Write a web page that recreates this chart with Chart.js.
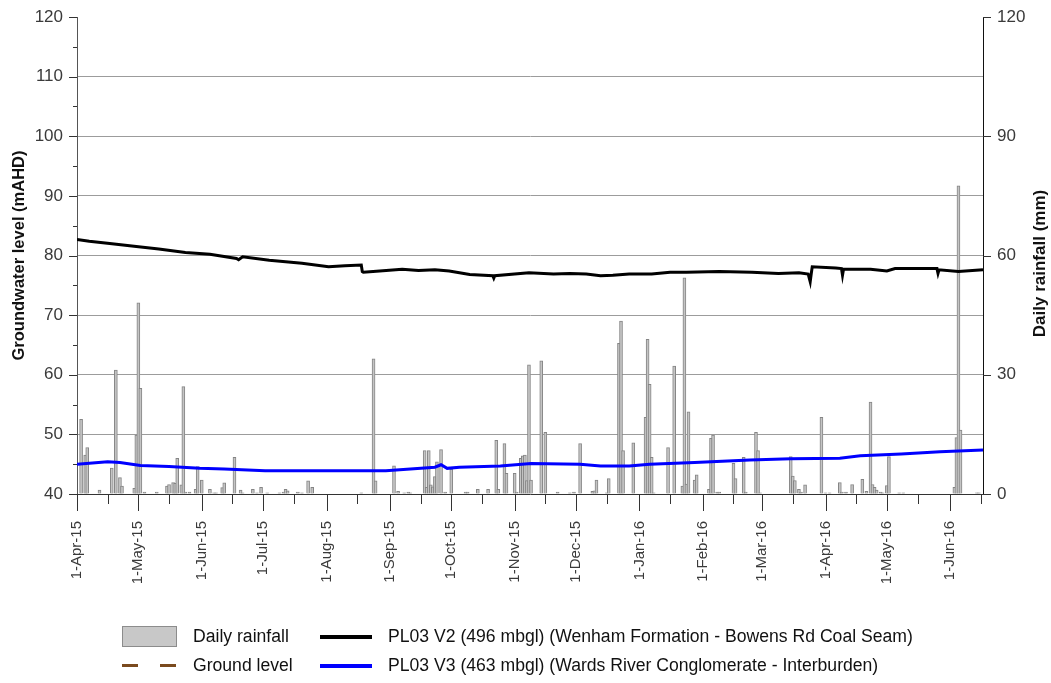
<!DOCTYPE html>
<html>
<head>
<meta charset="utf-8">
<title>PL03 groundwater levels and daily rainfall</title>
<script src="https://cdn.jsdelivr.net/npm/chart.js@4/dist/chart.umd.min.js"></script>
<style>
  html, body { margin: 0; padding: 0; background: #fff; }
  #wrap { position: relative; width: 1051px; height: 683px; }
  #legend {
    position: absolute; left: 122px; top: 622px;
    display: grid; grid-template-columns: 198px auto; grid-auto-rows: 29px;
    font-family: 'Liberation Sans', Arial, sans-serif; font-size: 17.6px; color: #111;
  }
  .item { display: flex; align-items: center; white-space: nowrap; }
  .item span.txt { margin-left: 16px; }
  .sym { display: inline-block; flex: none; }
  .sym.box { width: 53px; height: 19px; background: #c8c8c8; border: 1px solid #8c8c8c; }
  .sym.line { width: 52px; height: 4px; }
  .sym.dash { width: 55px; height: 3px; }
</style>
</head>
<body>
<div id="wrap">
  <canvas id="c" width="1051" height="683"></canvas>
  <div id="legend"></div>
</div>
<script>
// Day offsets are counted from 1 April 2015.
const START_UTC = Date.UTC(2015, 3, 1);
const MONTHS = ['Jan','Feb','Mar','Apr','May','Jun','Jul','Aug','Sep','Oct','Nov','Dec'];

// x-axis ticks: first of each month (labelled) and the 16th (unlabelled)
const majorTickDays = [0, 30, 61, 91, 122, 153, 183, 214, 244, 275, 306, 335, 366, 396, 427];
const minorTickDays = [15, 45, 76, 106, 137, 168, 198, 229, 259, 290, 321, 350, 381, 411, 442];
const X_MAX_DAY = 443;

// Daily rainfall (mm)
const rainDay = [
  2, 4, 5, 11, 17, 19, 21, 22, 28, 29, 30, 31, 33, 39, 44, 45, 47, 48, 49, 51, 52, 53, 55, 58, 59, 61, 65, 67, 68, 71, 72,
  77, 80, 81, 86, 88, 90, 93, 99, 101, 102, 103, 108, 110, 113, 115, 139, 145, 146,
  155, 157, 160, 162, 163, 170, 171, 172, 173, 174, 175, 176, 178, 180, 183, 190, 191, 196, 201, 205, 206, 209, 210, 214, 215,
  217, 218, 219, 220, 221, 222,
  227, 229, 235, 241, 243, 246, 252, 253, 254, 259, 260, 265, 266, 267, 272, 278, 279, 280, 281, 282, 289, 292, 296, 297, 298,
  299, 302, 303,
  309, 310, 311, 313, 314, 321, 322, 326, 327, 332, 333, 334, 349, 350, 351, 353, 354, 356, 364, 366, 368, 373, 374, 376,
  379, 384, 386, 388, 389, 390, 391, 393, 394, 396, 397, 402, 404, 429, 430, 431, 432, 440, 441
];
const rainMm = [
  18.8, 9.8, 11.7, 1.0, 6.5, 31.2, 4.1, 2.0, 1.4, 14.8, 48.1, 26.6, 0.5, 0.5, 2.0, 2.4, 2.9, 2.7, 9.0, 2.3, 27.0, 0.5, 0.5, 1.2, 6.9, 3.5, 1.2, 0.3, 0.3, 1.6, 2.8,
  9.2, 1.0, 0.3, 1.2, 0.3, 1.7, 0.3, 0.3, 0.5, 1.2, 0.8, 0.5, 0.3, 3.3, 1.7, 0.3, 34.0, 3.3,
  7.1, 0.7, 0.3, 0.5, 0.3, 10.9, 1.7, 10.9, 2.3, 1.8, 4.4, 8.1, 11.2, 0.5, 6.2, 0.5, 0.5, 1.2, 1.2, 13.5, 1.2, 12.7, 5.2, 5.2, 0.5,
  9.0, 9.6, 9.8, 3.4, 32.5, 3.5,
  33.5, 15.5, 0.5, 0.3, 0.5, 12.7, 0.7, 0.8, 3.5, 0.3, 3.9, 37.9, 43.5, 10.9, 12.9, 19.3, 38.9, 27.6, 9.2, 0.3, 11.7, 32.2, 2.0, 54.4, 2.5,
  20.7, 3.5, 4.8,
  1.2, 14.0, 14.8, 0.5, 0.5, 7.7, 3.9, 9.2, 0.5, 15.5, 10.9, 0.3, 9.4, 4.5, 3.4, 1.2, 0.5, 2.3, 19.3, 0.3, 0.3, 2.9, 0.5, 0.5,
  2.4, 3.7, 0.7, 23.1, 2.4, 1.7, 1.0, 0.5, 0.3, 2.1, 9.4, 0.3, 0.3, 1.7, 14.2, 77.5, 16.1, 0.3, 0.3
];

// PL03 V2 groundwater level (mAHD)
const v2Day = [
  0, 6, 16, 29, 40, 53, 65, 78, 79, 81, 94, 110, 123, 131, 139, 139.5, 140, 148, 159, 167,
  175, 182, 192, 203.3, 203.8, 204.3, 221, 233, 241, 249, 256, 262, 270, 281, 290, 298, 314, 330, 343, 353,
  357.5, 358.5, 359, 359.5, 371, 373.8, 374.3, 374.8, 388, 396, 400, 414, 420.5, 421, 421.5, 431, 443
];
const v2Level = [
  82.7, 82.4, 82.0, 81.5, 81.1, 80.5, 80.2, 79.5, 79.3, 79.8, 79.2, 78.7, 78.1, 78.3, 78.4, 77.3, 77.2, 77.4, 77.7, 77.5,
  77.6, 77.4, 76.8, 76.6, 76.2, 76.6, 77.1, 76.9, 77.0, 76.9, 76.6, 76.7, 76.9, 76.9, 77.2, 77.2, 77.3, 77.2, 77.0, 77.1,
  76.9, 75.6, 76.9, 78.1, 77.9, 77.8, 76.7, 77.7, 77.7, 77.4, 77.8, 77.8, 77.8, 77.0, 77.6, 77.3, 77.6
];

// PL03 V3 groundwater level (mAHD)
const v3Day = [0, 15, 21, 31, 45, 60, 72, 92, 109, 129, 151, 163, 175, 178, 181, 187, 207, 222, 246, 256,
  270, 280, 302, 329, 349, 373, 383, 403, 422, 443];
const v3Level = [45.0, 45.4, 45.3, 44.8, 44.6, 44.3, 44.2, 43.9, 43.9, 43.9, 43.9, 44.2, 44.5, 44.9, 44.3, 44.5, 44.7, 45.1, 45.0, 44.7,
  44.7, 45.0, 45.3, 45.7, 45.9, 46.0, 46.4, 46.7, 47.1, 47.4];

const levelAxisTitle = 'Groundwater level (mAHD)';
const rainfallAxisTitle = 'Daily rainfall (mm)';

const FONT = "'Liberation Sans', Arial, sans-serif";
const AXIS_COLOR = '#333333';
const TICK_TEXT = '#3a3a3a';

function dayLabel(d) {
  const dt = new Date(START_UTC + d * 86400000);
  return dt.getUTCDate() + '-' + MONTHS[dt.getUTCMonth()] + '-' + String(dt.getUTCFullYear()).slice(2);
}
const pairs = (xs, ys) => xs.map((x, i) => ({ x: x, y: ys[i] }));

// Axis tick marks (major and minor) and the right-hand axis title
const axisDecor = {
  id: 'axisDecor',
  afterDraw(chart) {
    const { ctx, chartArea: a, scales } = chart;
    ctx.save();
    ctx.strokeStyle = AXIS_COLOR;
    ctx.lineWidth = 1;
    ctx.beginPath();
    for (let v = 40; v <= 120; v += 5) {
      const y = Math.round(scales.y.getPixelForValue(v)) + 0.5;
      const len = v % 10 === 0 ? 8 : 4;
      ctx.moveTo(a.left - len, y); ctx.lineTo(a.left, y);
    }
    for (let v = 0; v <= 120; v += 30) {
      const y = Math.round(scales.y1.getPixelForValue(v)) + 0.5;
      ctx.moveTo(a.right, y); ctx.lineTo(a.right + 8, y);
    }
    majorTickDays.forEach(d => {
      const x = Math.round(scales.x.getPixelForValue(d)) + 0.5;
      ctx.moveTo(x, a.bottom); ctx.lineTo(x, a.bottom + 17);
    });
    minorTickDays.forEach(d => {
      const x = Math.round(scales.x.getPixelForValue(d)) + 0.5;
      ctx.moveTo(x, a.bottom); ctx.lineTo(x, a.bottom + 10);
    });
    ctx.stroke();
    ctx.translate(1040, (a.top + a.bottom) / 2 + 8);
    ctx.rotate(-Math.PI / 2);
    ctx.font = 'bold 17px ' + FONT;
    ctx.fillStyle = '#111';
    ctx.textAlign = 'center';
    ctx.textBaseline = 'middle';
    ctx.fillText(rainfallAxisTitle, 0, 0);
    ctx.restore();
  }
};

const chart = new Chart(document.getElementById('c'), {
  type: 'bar',
  data: {
    datasets: [
      {
        type: 'bar', label: 'Daily rainfall', legendSymbol: 'box',
        data: pairs(rainDay, rainMm), xAxisID: 'x', yAxisID: 'y1',
        backgroundColor: '#c4c4c4', borderColor: '#858585', borderWidth: 1, barThickness: 3, order: 4
      },
      {
        type: 'line', label: 'PL03 V2 (496 mbgl) (Wenham Formation - Bowens Rd Coal Seam)', legendSymbol: 'line',
        data: pairs(v2Day, v2Level), xAxisID: 'x', yAxisID: 'y',
        borderColor: '#000000', borderWidth: 3, pointRadius: 0, tension: 0, order: 1
      },
      {
        type: 'line', label: 'Ground level', legendSymbol: 'dash',
        data: [], xAxisID: 'x', yAxisID: 'y',
        borderColor: '#7a4a1e', borderDash: [16, 20], borderWidth: 3, pointRadius: 0, order: 3
      },
      {
        type: 'line', label: 'PL03 V3 (463 mbgl) (Wards River Conglomerate - Interburden)', legendSymbol: 'line',
        data: pairs(v3Day, v3Level), xAxisID: 'x', yAxisID: 'y',
        borderColor: '#0000ff', borderWidth: 3, pointRadius: 0, tension: 0, order: 2
      }
    ]
  },
  options: {
    responsive: false,
    animation: false,
    events: [],
    devicePixelRatio: 1,
    layout: { padding: { top: 17, left: 0, right: 0, bottom: 0 } },
    plugins: { legend: { display: false }, tooltip: { enabled: false } },
    scales: {
      x: {
        type: 'linear', position: 'bottom', min: 0, max: X_MAX_DAY, offset: false,
        afterBuildTicks: s => {
          s.ticks = majorTickDays.concat(minorTickDays).sort((p, q) => p - q).map(v => ({ value: v }));
        },
        afterFit: s => { s.height = 683 - 494; s.paddingLeft = 0; s.paddingRight = 0; s.paddingTop = 0; s.paddingBottom = 0; },
        grid: { display: true, drawOnChartArea: false, drawTicks: false, offset: false },
        border: { display: true, color: AXIS_COLOR, width: 1 },
        ticks: {
          autoSkip: false, maxRotation: 90, minRotation: 90, padding: 27,
          color: TICK_TEXT, font: { family: FONT, size: 15 },
          callback: v => majorTickDays.includes(v) ? dayLabel(v) : ''
        }
      },
      y: {
        type: 'linear', position: 'left', min: 40, max: 120,
        afterFit: s => { s.width = 77; s.paddingTop = 0; s.paddingBottom = 0; },
        ticks: { stepSize: 10, padding: 14, color: TICK_TEXT, font: { family: FONT, size: 17 } },
        grid: {
          drawTicks: false,
          color: c => (c.tick.value === 40 || c.tick.value === 120) ? 'rgba(0,0,0,0)' : '#9c9c9c',
          lineWidth: 1
        },
        border: { display: true, color: '#555555', width: 1 },
        title: {
          display: true, text: levelAxisTitle, color: '#111',
          font: { family: FONT, size: 16.5, weight: 'bold' }, padding: { top: 10, bottom: 0 }
        }
      },
      y1: {
        type: 'linear', position: 'right', min: 0, max: 120,
        afterFit: s => { s.width = 1051 - 983; s.paddingTop = 0; s.paddingBottom = 0; },
        ticks: { stepSize: 30, padding: 14, color: TICK_TEXT, font: { family: FONT, size: 17 } },
        grid: { drawOnChartArea: false, drawTicks: false },
        border: { display: true, color: '#111111', width: 1 }
      }
    }
  },
  plugins: [axisDecor]
});

// Legend built from the datasets, two columns
const legendEl = document.getElementById('legend');
chart.data.datasets.forEach(ds => {
  const item = document.createElement('div');
  item.className = 'item';
  const sym = document.createElement('span');
  sym.className = 'sym ' + ds.legendSymbol;
  if (ds.legendSymbol === 'line') sym.style.background = ds.borderColor;
  if (ds.legendSymbol === 'dash') {
    sym.style.background = 'repeating-linear-gradient(to right, ' + ds.borderColor + ' 0 16px, transparent 16px 38px)';
  }
  const txt = document.createElement('span');
  txt.className = 'txt';
  txt.textContent = ds.label;
  item.appendChild(sym);
  item.appendChild(txt);
  legendEl.appendChild(item);
});
</script>
</body>
</html>
